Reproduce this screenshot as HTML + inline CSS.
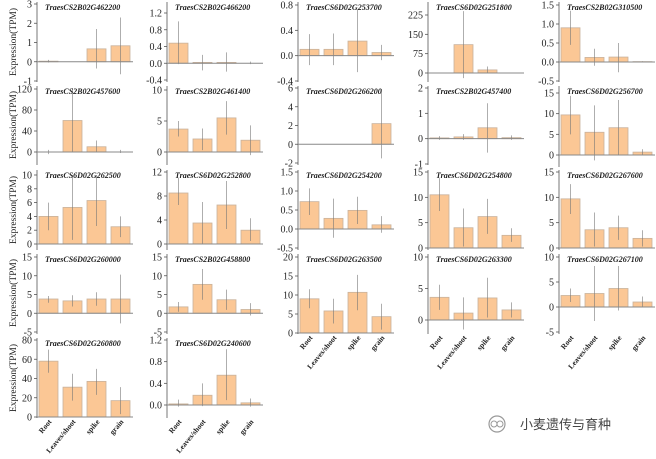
<!DOCTYPE html>
<html><head><meta charset="utf-8"><style>
html,body{margin:0;padding:0;background:#fff;}
svg, svg text{font-family:"Liberation Serif","Times New Roman",serif;}
</style></head><body>
<svg id="s" width="656" height="454" viewBox="0 0 656 454" xmlns="http://www.w3.org/2000/svg" font-family="Liberation Serif, serif">
<g id="ylabels" font-size="9.5" fill="#222">
<text transform="translate(16,42) rotate(-90)" text-anchor="middle">Expression(TPM)</text>
<text transform="translate(16,125) rotate(-90)" text-anchor="middle">Expression(TPM)</text>
<text transform="translate(16,210) rotate(-90)" text-anchor="middle">Expression(TPM)</text>
<text transform="translate(16,293) rotate(-90)" text-anchor="middle">Expression(TPM)</text>
<text transform="translate(16,378) rotate(-90)" text-anchor="middle">Expression(TPM)</text>
</g>
<g transform="translate(497,424)">
<circle cx="0" cy="0" r="8" fill="none" stroke="#999" stroke-width="1.2"/>
<circle cx="-3" cy="0" r="3" fill="none" stroke="#999"/>
<circle cx="3" cy="0" r="3" fill="none" stroke="#999"/>
</g>
<text x="520" y="429" font-size="13" fill="#444" style="font-family:'Liberation Sans','Noto Sans CJK SC',sans-serif">小麦遗传与育种</text>
</svg>
<script>
var ax=[37,167,298,428,559];
var P=[
[0,0,"TraesCS2B02G462200",3,4,-1,81,2,82,[3,2,1,0,-1],[[0.03,-0.04,0.1],[0,0,0],[0.67,-0.35,1.7],[0.83,-0.65,2.3]]],
[0,1,"TraesCS2B02G466200",1.2,13,-0.4,80,2,82,["1.2","0.8","0.4","0.0","-0.4"],[[0.48,-0.02,1.0],[0.02,-0.17,0.2],[0.02,-0.2,0.26],[0,-0.02,0.04]]],
[0,2,"TraesCS6D02G253700",0.8,5,-0.4,81,2,82,["0.8","0.4","0.0","-0.4"],[[0.1,-0.15,0.34],[0.1,-0.15,0.35],[0.23,-0.26,0.73],[0.05,-0.07,0.17]]],
[0,3,"TraesCS6D02G251800",225,15,0,73,2,82,[225,150,75,0],[[0,0,0],[110,-20,240],[12,0,25],[0,0,0]]],
[0,4,"TraesCS2B02G310500",1.5,5,-0.5,81,2,82,["1.5","1.0","0.5","0.0","-0.5"],[[0.9,0.45,1.35],[0.12,-0.1,0.35],[0.13,-0.27,0.5],[0.01,0,0.02]]],
[1,0,"TraesCS2B02G457600",120,89,0,152,86,165,[120,80,40,0],[[0,-4,4],[60,0,122],[10,0,22],[0,-2,4]]],
[1,1,"TraesCS2B02G461400",10,90,0,152,86,165,[10,5,0],[[3.7,2.5,5],[2.1,0.3,3.8],[5.5,2.8,8.2],[1.9,-0.5,4.3]]],
[1,2,"TraesCS6D02G266200",6,88,-2,163,86,165,[6,4,2,0,-2],[[0,0,0],[0,0,0],[0,0,0],[2.2,-1.5,5.9]]],
[1,3,"TraesCS2B02G457400",2,88,-1,164,86,165,[2,1,0,-1],[[0.03,-0.05,0.1],[0.07,-0.05,0.18],[0.43,-0.55,1.4],[0.04,-0.05,0.13]]],
[1,4,"TraesCS6D02G256700",15,93,0,155,86,167,[15,10,5,0],[[9.7,5,14.3],[5.5,-1.3,12],[6.6,0,13.3],[0.7,0,1.4]]],
[2,0,"TraesCS6D02G262500",10,175,0,244,170,250,[10,8,6,4,2,0],[[4,2,6],[5.3,0.6,10],[6.3,2.6,10],[2.5,1,4]]],
[2,1,"TraesCS6D02G252800",12,172,0,244,170,250,[12,8,4,0],[[8.5,6.5,11],[3.5,0,7],[6.5,2.5,10.5],[2.3,0.5,4.3]]],
[2,2,"TraesCS6D02G254200",1.5,172,-0.5,248,170,250,["1.5","1.0","0.5","0.0","-0.5"],[[0.72,0.37,1.07],[0.28,-0.23,0.8],[0.49,0.13,0.85],[0.11,-0.1,0.34]]],
[2,3,"TraesCS6D02G254800",15,172,0,248,170,250,[15,10,5,0],[[10.5,7.3,13.8],[4,0.3,7.8],[6.2,2.8,9.7],[2.5,1.2,3.9]]],
[2,4,"TraesCS6D02G267600",15,172,0,248,170,250,[15,10,5,0],[[9.7,6.7,12.6],[3.6,0.3,7],[4,1.6,6.4],[1.9,0.3,3.5]]],
[3,0,"TraesCS6D02G260000",15,257,-5,332,254,334,[15,10,5,0,-5],[[3.8,2.8,4.6],[3.3,1.8,4.8],[3.8,2,5.6],[3.8,-2.7,10.3]]],
[3,1,"TraesCS2B02G458800",15,257,-5,332,254,334,[15,10,5,0,-5],[[1.7,0.4,3],[7.7,3.6,11.8],[3.6,0.9,6.3],[1,-0.6,2.7]]],
[3,2,"TraesCS6D02G263500",20,257,0,333,254,334,[20,15,10,5,0],[[9,6.5,11.5],[5.8,2.5,9],[10.7,6,15.3],[4.3,0.9,7.7]],1],
[3,3,"TraesCS6D02G263300",10,257,0,320,254,334,[10,5,0],[[3.6,1.6,5.6],[1.1,-1.5,3.6],[3.5,0.4,6.7],[1.6,0.4,2.8]],1],
[3,4,"TraesCS6D02G267100",10,257,-5,332,254,334,[10,5,0,-5],[[2.3,1,3.7],[2.7,-2.8,8.2],[3.7,-0.7,8.2],[1,0,2.1]],1],
[4,0,"TraesCS6D02G260800",80,340,0,417,338,418,[80,60,40,20,0],[[58,46,70],[31,17,45],[37,23,50],[17,3,31]],1],
[4,1,"TraesCS6D02G240600",1.2,340,0,405,338,418,["1.2","0.8","0.4","0.0"],[[0.02,-0.03,0.1],[0.18,-0.02,0.4],[0.55,0.09,1.03],[0.04,-0.03,0.12]],1]
];
var names=["Root","Leaves/shoot","spike","grain"];
var F=' font-family="Liberation Serif, serif"';
var h="";
P.forEach(function(p){
 var a=ax[p[1]],v1=p[3],p1=p[4],v0=p[5],p0=p[6];
 var Y=function(v){return p0+(v-v0)*(p1-p0)/(v1-v0);};
 var z=Y(0);
 h+='<line x1="'+a+'" y1="'+p[7]+'" x2="'+a+'" y2="'+p[8]+'" stroke="#555" stroke-width="0.8"/>';
 p[9].forEach(function(t){var y=Y(parseFloat(t));
  h+='<line x1="'+(a-3)+'" y1="'+y+'" x2="'+a+'" y2="'+y+'" stroke="#555" stroke-width="0.8"/>';
  h+='<text x="'+(a-5)+'" y="'+(y+3.5)+'" font-size="10" text-anchor="end" fill="#222"'+F+'>'+t+'</text>';});
 p[10].forEach(function(b,i){
  var x=a+2+i*24,yt=Y(b[0]);
  var y=Math.min(yt,z),hh=Math.abs(z-yt);
  h+='<rect x="'+x+'" y="'+y+'" width="19" height="'+hh+'" fill="#fbc795" stroke="#c9b29c" stroke-width="0.8"/>';
  h+='<line x1="'+(x+9.5)+'" y1="'+Y(b[2])+'" x2="'+(x+9.5)+'" y2="'+Y(b[1])+'" stroke="#777" stroke-width="0.6"/>';
 });
 h+='<line x1="'+a+'" y1="'+z+'" x2="'+(a+96)+'" y2="'+z+'" stroke="#888" stroke-width="1"/>';
 h+='<text x="'+(a+8)+'" y="'+(p[7]+8)+'" font-size="8" font-weight="bold" font-style="italic" fill="#222"'+F+'>'+p[2]+'</text>';
 if(p[11]){names.forEach(function(n,i){var x=a+2+i*24+13,y=p[8]+4;
  h+='<text transform="translate('+x+','+y+') rotate(-50)" font-size="7.5" font-weight="bold" text-anchor="end" fill="#222"'+F+'>'+n+'</text>';});}
});
document.getElementById("s").insertAdjacentHTML("beforeend",h);
</script>
</body></html>
